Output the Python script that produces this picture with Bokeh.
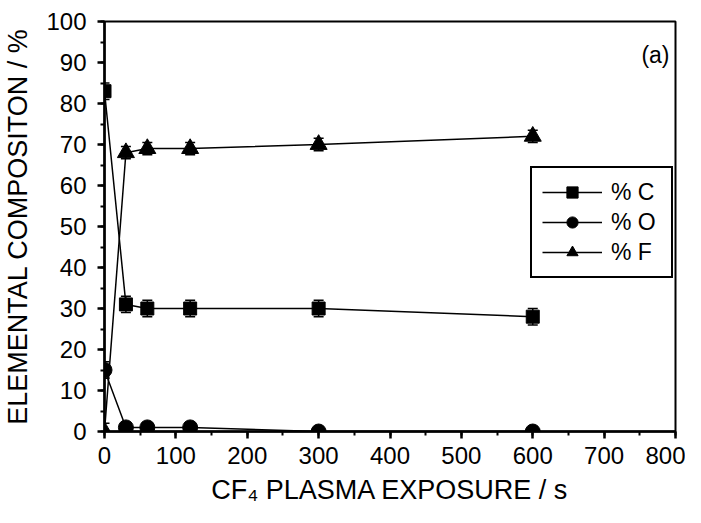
from bokeh.plotting import figure
from bokeh.models import Legend, LegendItem, Label, Whisker, ColumnDataSource, FixedTicker
from bokeh.embed import file_html
from bokeh.resources import INLINE

time_s = [0, 30, 60, 120, 300, 600]
pct_C = [83, 31, 30, 30, 30, 28]
pct_O = [15, 1, 1, 1, 0, 0]
pct_F = [0, 68, 69, 69, 70, 72]
err_C = [2, 2, 2, 2, 2, 2]
err_O = [2, 1, 1, 1, 0.5, 0.5]
err_F = [2, 1.5, 1.5, 1.5, 1.5, 1.5]

x_ticks = [0, 100, 200, 300, 400, 500, 600, 700, 800]
y_ticks = [0, 10, 20, 30, 40, 50, 60, 70, 80, 90, 100]

FONT = "Liberation Sans"

p = figure(width=685, height=507, output_backend="svg", toolbar_location=None,
           x_range=(0, 800), y_range=(0, 100),
           min_border_left=102, min_border_right=10, min_border_top=21, min_border_bottom=76)
p.grid.visible = False
p.outline_line_color = "black"
p.outline_line_width = 2
p.outline_line_alpha = 1
p.background_fill_color = "white"

for ax in (p.xaxis[0], p.yaxis[0]):
    ax.axis_line_width = 2.5
    ax.major_tick_line_width = 2.5
    ax.minor_tick_line_width = 2
    ax.major_tick_out = 7
    ax.major_tick_in = 0
    ax.minor_tick_out = 4
    ax.minor_tick_in = 0
    ax.major_label_text_font = FONT
    ax.major_label_text_font_size = "24px"
    ax.major_label_text_color = "black"
    ax.axis_label_text_font = FONT
    ax.axis_label_text_font_size = "27px"
    ax.axis_label_text_font_style = "normal"
    ax.axis_label_text_color = "black"

p.xaxis.ticker = FixedTicker(ticks=x_ticks, minor_ticks=list(range(0, 801, 50)))
p.yaxis.ticker = FixedTicker(ticks=y_ticks, minor_ticks=list(range(0, 101, 5)))
p.xaxis.axis_label = "CF₄ PLASMA EXPOSURE / s"
p.yaxis.axis_label = "ELEMENTAL COMPOSITON / %"
p.xaxis.major_label_standoff = 8
p.yaxis.major_label_standoff = 11
p.xaxis.axis_label_standoff = 8
p.yaxis.axis_label_standoff = 10

items = []
for vals, errs, marker, size, label in [
    (pct_C, err_C, "square", 13, "% C"),
    (pct_O, err_O, "circle", 15, "% O"),
    (pct_F, err_F, "triangle", 17, "% F"),
]:
    src = ColumnDataSource(dict(x=time_s, y=vals,
                                lo=[v - e for v, e in zip(vals, errs)],
                                hi=[v + e for v, e in zip(vals, errs)]))
    ln = p.line("x", "y", source=src, line_color="black", line_width=1.5)
    w = Whisker(base="x", lower="lo", upper="hi", source=src, line_color="black", line_width=1.5)
    w.upper_head.size = 10
    w.lower_head.size = 10
    w.upper_head.line_width = 1.5
    w.lower_head.line_width = 1.5
    p.add_layout(w)
    sc = p.scatter("x", "y", source=src, marker=marker, size=size,
                   fill_color="black", line_color="black")
    items.append(LegendItem(label=label, renderers=[ln, sc]))

legend = Legend(items=items, location=(426, 153))
legend.label_text_font = FONT
legend.label_text_font_size = "23px"
legend.label_text_color = "black"
legend.border_line_color = "black"
legend.border_line_alpha = 1
legend.border_line_width = 2
legend.background_fill_alpha = 1
legend.glyph_width = 60
legend.glyph_height = 28
legend.label_height = 28
legend.label_width = 50
legend.spacing = 2
legend.padding = 10
legend.margin = 0
legend.label_standoff = 9
p.add_layout(legend, "center")

p.add_layout(Label(x=565, y=377, x_units="screen", y_units="screen", text="(a)",
                   text_align="right", text_baseline="middle",
                   text_font=FONT, text_font_size="23px", text_color="black"))

open("out.html", "w").write(file_html(p, INLINE))
